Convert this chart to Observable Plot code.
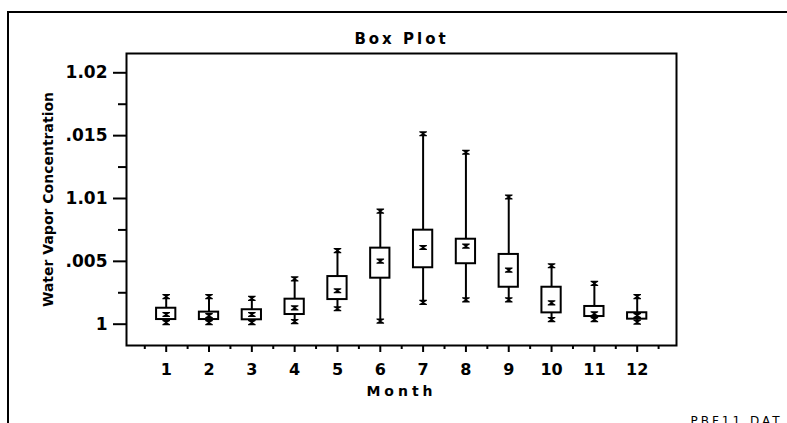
<!DOCTYPE html>
<html><head><meta charset="utf-8">
<script src="https://cdn.jsdelivr.net/npm/d3@7"></script>
<script src="https://cdn.jsdelivr.net/npm/@observablehq/plot@0.6"></script>
<style>
html,body{margin:0;padding:0;background:#fff;overflow:hidden;width:787px;height:423px;}
#wrap{position:relative;width:787px;height:423px;overflow:hidden;}
#border{position:absolute;left:7px;top:11px;width:800px;height:430px;border-top:2px solid #000;border-left:2px solid #000;}
#chart{position:absolute;left:0;top:0;}
</style></head><body><div id="wrap"><div id="border"></div><div id="chart"></div></div>
<script>
const months = [1, 2, 3, 4, 5, 6, 7, 8, 9, 10, 11, 12];
const lowWhisker  = [1.00013, 1.00013, 1.00013, 1.00021, 1.00123, 1.00025, 1.00173, 1.00194, 1.00194, 1.00037, 1.00037, 1.00016];
const quartile1   = [1.00037, 1.00037, 1.00035, 1.00077, 1.00196, 1.00366, 1.00449, 1.00481, 1.00294, 1.00090, 1.00061, 1.00040];
const median      = [1.00077, 1.00068, 1.00077, 1.00130, 1.00266, 1.00501, 1.00610, 1.00621, 1.00430, 1.00170, 1.00083, 1.00069];
const quartile3   = [1.00127, 1.00096, 1.00115, 1.00199, 1.00379, 1.00605, 1.00748, 1.00676, 1.00555, 1.00294, 1.00141, 1.00091];
const highWhisker = [1.00220, 1.00220, 1.00205, 1.00361, 1.00586, 1.00899, 1.01515, 1.01368, 1.01012, 1.00465, 1.00324, 1.00220];

const yTicks = [1, 1.005, 1.01, 1.015, 1.02];
const yTickLabels = ["1", ".005", "1.01", ".015", "1.02"];
const yMinorTicks = [1.0025, 1.0075, 1.0125, 1.0175];
const xMinorTicks = [0.5, 1.5, 2.5, 3.5, 4.5, 5.5, 6.5, 7.5, 8.5, 9.5, 10.5, 11.5, 12.5];

const titleText = "Box Plot";
const xLabelText = "Month";
const yLabelText = "Water Vapor Concentration";
const footerText = "PBF11.DAT";

const data = months.map((m, i) => ({month: m, lo: lowWhisker[i], q1: quartile1[i], med: median[i], q3: quartile3[i], hi: highWhisker[i]}));
const points = data.flatMap(d => [{month: d.month, value: d.lo}, {month: d.month, value: d.med}, {month: d.month, value: d.hi}]);
const halfW = 0.225;

const hourglass = {
  draw(ctx) {
    const w = 3.8, h = 2.6, t = 1, c = 0.9;
    ctx.moveTo(-w, -h); ctx.lineTo(w, -h); ctx.lineTo(w, -h + t); ctx.lineTo(c, 0);
    ctx.lineTo(w, h - t); ctx.lineTo(w, h); ctx.lineTo(-w, h); ctx.lineTo(-w, h - t);
    ctx.lineTo(-c, 0); ctx.lineTo(-w, -h + t); ctx.closePath();
  }
};

const chart = Plot.plot({
  width: 787, height: 423,
  marginLeft: 126, marginRight: 111, marginTop: 53, marginBottom: 78,
  x: {type: "linear", domain: [0.0728, 12.918]},
  y: {type: "linear", domain: [0.998305, 1.021535]},
  style: {fontFamily: "DejaVu Sans", background: "transparent", color: "black", overflow: "visible"},
  marks: [
    Plot.ruleX(data, {x: "month", y1: "lo", y2: "q1", stroke: "black", strokeWidth: 2}),
    Plot.ruleX(data, {x: "month", y1: "q3", y2: "hi", stroke: "black", strokeWidth: 2}),
    Plot.rect(data, {x1: d => d.month - halfW, x2: d => d.month + halfW, y1: "q1", y2: "q3", stroke: "black", strokeWidth: 2, fill: "white"}),
    Plot.dot(points, {x: "month", y: "value", symbol: hourglass, fill: "black", stroke: "none", r: 3}),
    Plot.frame({stroke: "black", strokeWidth: 2}),
    Plot.axisX(months, {label: null, tickSize: 7, tickPadding: 11, fontSize: 16, fontWeight: "bold", strokeWidth: 2, fill: "black"}),
    Plot.axisX(xMinorTicks, {label: null, tickSize: 4, tickFormat: () => "", strokeWidth: 2}),
    Plot.axisY(yTicks, {label: null, tickSize: 13, tickPadding: 6, tickFormat: d => yTickLabels[yTicks.indexOf(d)], fontSize: 17, fontWeight: "bold", strokeWidth: 2, fill: "black"}),
    Plot.axisY(yMinorTicks, {label: null, tickSize: 8, tickFormat: () => "", strokeWidth: 2}),
    Plot.text([titleText], {frameAnchor: "top", dy: -9.5, lineAnchor: "bottom", fontSize: 15, fontWeight: "bold", fill: "black"}),
    Plot.text([xLabelText], {frameAnchor: "bottom", dy: 50, lineAnchor: "bottom", fontSize: 14, fontWeight: "bold", fill: "black"}),
    Plot.text([yLabelText], {frameAnchor: "left", dx: -78, rotate: -90, textAnchor: "middle", lineAnchor: "middle", fontSize: 14, fontWeight: "bold", fill: "black"}),
    Plot.text([footerText], {frameAnchor: "bottom-right", dx: 14, dy: 79, textAnchor: "start", lineAnchor: "bottom", fontSize: 12, fill: "black"})
  ]
});
document.getElementById("chart").appendChild(chart);
const spacing = {[titleText]: "3px", [xLabelText]: "4px", [footerText]: "3px"};
d3.select(chart).selectAll("text").each(function() {
  const t = this.textContent;
  if (spacing[t]) this.style.letterSpacing = spacing[t];
});
</script></body></html>
